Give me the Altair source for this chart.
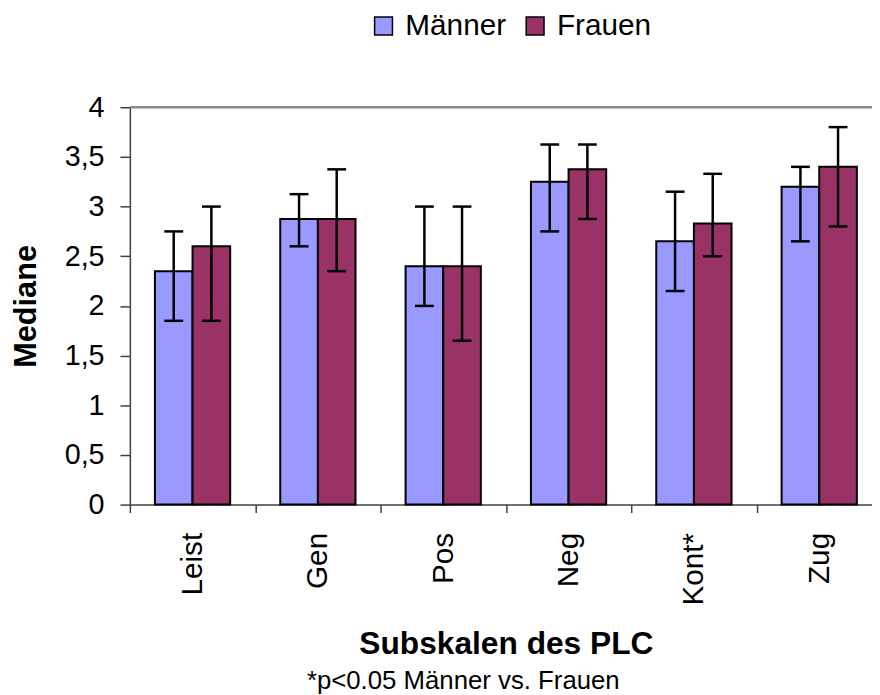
import altair as alt
import pandas as pd

# ---- data ----
categories = ["Leist", "Gen", "Pos", "Neg", "Kont*", "Zug"]
groups = ["Männer", "Frauen"]
maenner_median = [2.35, 2.875, 2.4, 3.25, 2.65, 3.2]
maenner_low = [1.85, 2.6, 2.0, 2.75, 2.15, 2.65]
maenner_high = [2.75, 3.125, 3.0, 3.625, 3.15, 3.4]
frauen_median = [2.6, 2.875, 2.4, 3.375, 2.83, 3.4]
frauen_low = [1.85, 2.35, 1.65, 2.875, 2.5, 2.8]
frauen_high = [3.0, 3.375, 3.0, 3.625, 3.33, 3.8]
colors = ["#9999FF", "#993366"]
y_ticks = [0, 0.5, 1, 1.5, 2, 2.5, 3, 3.5, 4]
footnote = "*p<0.05 Männer vs. Frauen"

rows = []
for i, c in enumerate(categories):
    rows.append({"Subskala": c, "Gruppe": groups[0], "Median": maenner_median[i],
                 "low": maenner_low[i], "high": maenner_high[i]})
    rows.append({"Subskala": c, "Gruppe": groups[1], "Median": frauen_median[i],
                 "low": frauen_low[i], "high": frauen_high[i]})
df = pd.DataFrame(rows)

PLOT_W = 749
PLOT_H = 401
FULL_RANGE = 759
FONT = "Liberation Sans"

x_enc = alt.X(
    "Subskala:N",
    sort=categories,
    scale=alt.Scale(range=[0, FULL_RANGE], paddingInner=0, paddingOuter=0),
    axis=alt.Axis(
        title="Subskalen des PLC",
        titleFontSize=32,
        titleFontWeight="bold",
        titleY=140,
        titleBaseline="middle",
        labelAngle=270,
        labelFontSize=30,
        labelColor="black",
        labelPadding=20,
        tickBand="extent",
        tickSize=8,
        tickColor="#404040",
        domainColor="#404040",
        domainWidth=1.5,
        tickWidth=1.5,
        grid=False,
    ),
)
xoff = alt.XOffset("Gruppe:N", sort=groups,
                   scale=alt.Scale(paddingInner=0, paddingOuter=0.665))

base = alt.Chart(df)

bars = base.mark_bar(stroke="black", strokeWidth=2).encode(
    x=x_enc,
    xOffset=xoff,
    y=alt.Y(
        "Median:Q",
        scale=alt.Scale(domain=[0, 4], nice=False),
        axis=alt.Axis(
            values=y_ticks,
            labelExpr="replace(format(datum.value, '~g'), '.', ',')",
            title="Mediane",
            titleFontSize=31,
            titleFontWeight="bold",
            titleAngle=270,
            titleX=-104,
            titleY=PLOT_H / 2,
            titleAlign="center",
            titleBaseline="middle",
            labelFontSize=29,
            labelColor="black",
            tickSize=10,
            labelPadding=16,
            tickColor="#404040",
            domainColor="#404040",
            domainWidth=1.5,
            tickWidth=1.5,
            grid=False,
        ),
    ),
    color=alt.Color(
        "Gruppe:N",
        sort=groups,
        scale=alt.Scale(domain=groups, range=colors),
        legend=alt.Legend(
            title=None,
            orient="none",
            legendX=241,
            legendY=-97,
            direction="horizontal",
            symbolType="square",
            symbolSize=324,
            symbolStrokeColor="black",
            symbolStrokeWidth=1.5,
            symbolOpacity=1,
            labelFontSize=30,
            labelColor="black",
            labelOffset=7,
            columnPadding=14,
        ),
    ),
)

err = base.mark_rule(color="black", strokeWidth=2.5).encode(
    x=alt.X("Subskala:N", sort=categories),
    xOffset=xoff,
    y="low:Q",
    y2="high:Q",
)
cap_low = base.mark_tick(color="black", thickness=2.5, size=19, orient="horizontal", opacity=1).encode(
    x=alt.X("Subskala:N", sort=categories),
    xOffset=xoff,
    y="low:Q",
)
cap_high = base.mark_tick(color="black", thickness=2.5, size=19, orient="horizontal", opacity=1).encode(
    x=alt.X("Subskala:N", sort=categories),
    xOffset=xoff,
    y="high:Q",
)

top_line = alt.Chart(pd.DataFrame({"v": [4]})).mark_rule(color="#8a8a8a", strokeWidth=2.5).encode(
    y="v:Q",
    x=alt.value(0),
    x2=alt.value(FULL_RANGE),
)

chart = (
    alt.layer(bars, err, cap_low, cap_high, top_line)
    .properties(
        width=PLOT_W,
        height=PLOT_H,
        autosize=alt.AutoSizeParams(type="none"),
        padding={"left": 123, "top": 97, "right": 0, "bottom": 188},
        title=alt.TitleParams(
            footnote,
            orient="bottom",
            anchor="middle",
            frame="group",
            fontSize=26,
            fontWeight="normal",
            color="black",
            dx=-38,
            offset=30,
            baseline="alphabetic",
        ),
    )
    .configure(font=FONT)
    .configure_view(stroke=None)
)

chart.save("out.html", embed_options={"renderer": "svg", "actions": False})
